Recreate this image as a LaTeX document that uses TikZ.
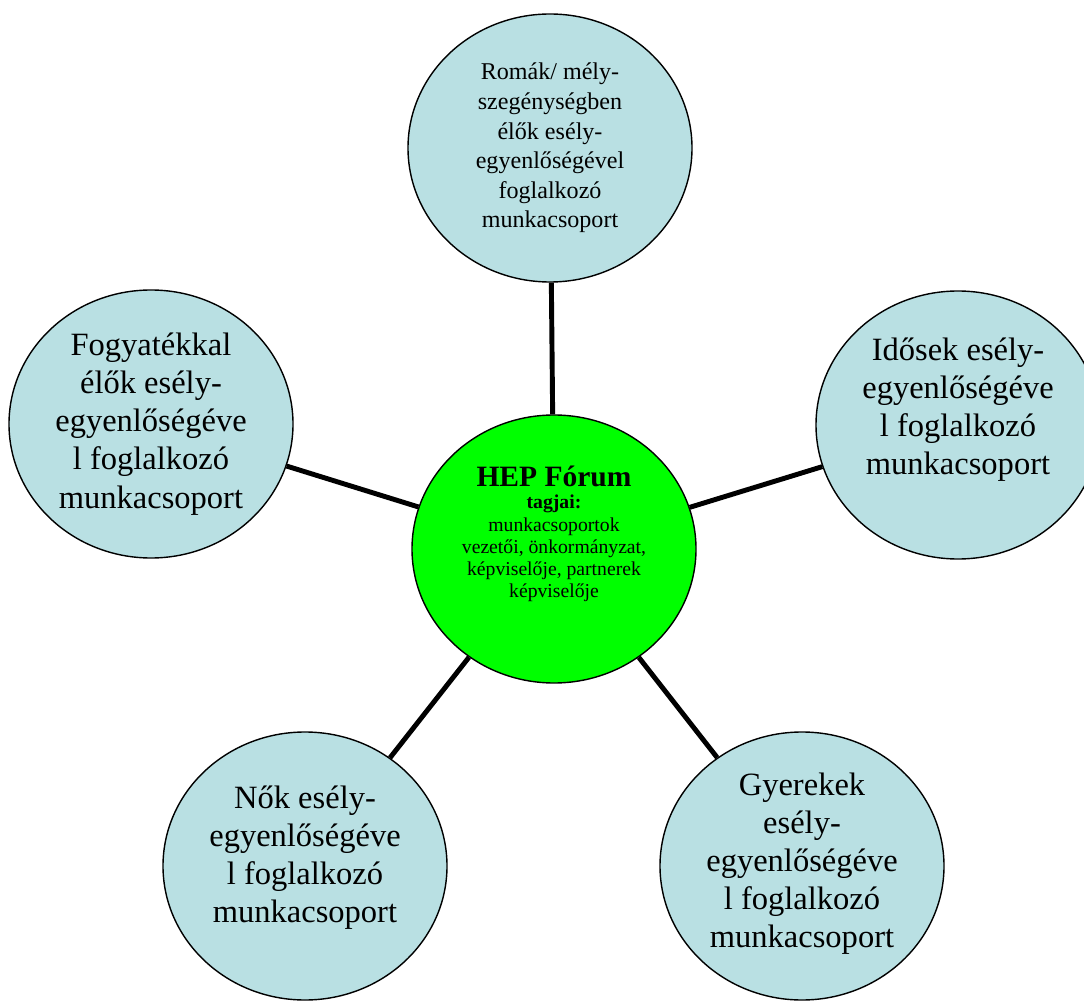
\documentclass[tikz,border=0pt]{standalone}
\usepackage{fontspec}
\setmainfont{Liberation Serif}
\usetikzlibrary{shapes.geometric}
\usepackage{xcolor}
\definecolor{groupblue}{RGB}{185,224,227}
\definecolor{forumgreen}{RGB}{0,255,0}

\begin{document}
\begin{tikzpicture}[scale=1.0, thick,
        every node/.style={inner sep=0pt, align=center},
        group/.style={ellipse, draw=black, line width=0.8pt, fill=groupblue,
            minimum width=5.68cm, minimum height=5.36cm,
            font=\fontsize{18.5}{21.7}\selectfont},
        forum/.style={group, fill=forumgreen, font=\fontsize{11.2}{12.6}\selectfont},
        link/.style={line width=2.8pt}]
        % Page frame
        \useasboundingbox (0,0) rectangle (21.68,-20.10);

        % Forum in the middle (empty last line lifts the text a little)
        \node[forum] (forum) at (11.08,-10.98)
            {{\fontsize{16.8}{19}\selectfont\bfseries HEP Fórum}\\
             {\bfseries tagjai:}\\ munkacsoportok\\ vezetői, önkormányzat,\\
             képviselője, partnerek\\ képviselője\\[0.24cm] \mbox{}};

        % Working groups round it
        \node[group, font=\fontsize{13.7}{16.8}\selectfont] (roma) at (11.00,-2.96)
            {Romák/ mély-\\ szegénységben\\ élők esély-\\ egyenlőségével\\
             foglalkozó\\ munkacsoport};
        \node[group] (fogy) at (3.02,-8.48)
            {Fogyatékkal\\ élők esély-\\ egyenlőségéve\\ l foglalkozó\\ munkacsoport};
        \node[group] (idos) at (19.16,-8.50)
            {Idősek esély-\\ egyenlőségéve\\ l foglalkozó\\ munkacsoport\\ \mbox{}};
        \node[group] (nok) at (6.10,-17.32)
            {Nők esély-\\ egyenlőségéve\\ l foglalkozó\\ munkacsoport\\[-0.3cm] \mbox{}};
        \node[group] (gyer) at (16.04,-17.32)
            {\mbox{}\\[-0.4cm] Gyerekek\\ esély-\\ egyenlőségéve\\ l foglalkozó\\ munkacsoport};

        % Links from the forum
        \foreach \g in {roma,fogy,idos,nok,gyer}
            \draw[link] (forum) -- (\g);
    \end{tikzpicture}
\end{document}
